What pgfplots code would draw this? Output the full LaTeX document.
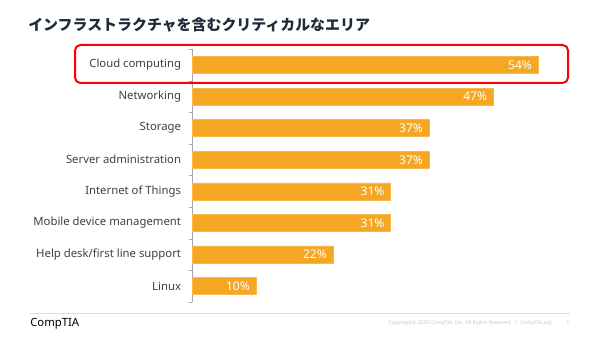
\documentclass[border=0pt]{standalone}
\usepackage{pgfplots}
\pgfplotsset{compat=1.18}
\usepackage{fontspec}
\setmainfont{Noto Sans}
\newfontfamily\cjk{Noto Sans CJK JP}
\definecolor{barc}{HTML}{F5A623}
\definecolor{lblc}{HTML}{404040}
\definecolor{titlec}{HTML}{1F2B38}
\begin{document}
\begin{tikzpicture}
\useasboundingbox (0,0) rectangle (450pt,-253.5pt);
\fill[white] (0,0) rectangle (450pt,-253.5pt);
\node[anchor=west,inner sep=0pt,text=titlec] at (21pt,-18.5pt) {\cjk\bfseries\fontsize{11.2}{13}\selectfont インフラストラクチャを含むクリティカルなエリア};
\begin{axis}[
  anchor=origin, at={(144pt,-48.75pt)},
  x=4.8075pt, y=23.68pt, y dir=reverse,
  xmin=0, xmax=60, ymin=-0.5, ymax=7.5,
  xbar, bar width=12.75pt, bar shift=0pt,
  axis x line=none, axis y line=left,
  axis line style={-, draw=gray!70},
  ytick={0,...,7},
  yticklabels={Cloud computing,Networking,Storage,Server administration,Internet of Things,Mobile device management,Help desk/first line support,Linux},
  minor ytick={-0.5,0.5,...,7.5},
  major tick length=0pt, minor tick length=2.5pt, tick align=outside,
  tick style={draw=gray!70},
  yticklabel style={font=\fontsize{8.5}{10}\selectfont, text=lblc, inner sep=0pt, xshift=-8pt},
  /pgf/number format/assume math mode=true,
  nodes near coords={\pgfmathprintnumber{\pgfplotspointmeta}\%},
  point meta=x,
  every node near coord/.append style={anchor=east, text=white, font=\fontsize{9}{10}\selectfont, inner sep=0pt, xshift=-4.5pt},
  clip=false,
]
\addplot[fill=barc, draw=barc!80!white] coordinates {(54,0) (47,1) (37,2) (37,3) (31,4) (31,5) (22,6) (10,7)};
\end{axis}
\draw[red, line width=1.5pt, rounded corners=4pt] (56.25pt,-33.75pt) rectangle (426pt,-62.25pt);
\draw[gray!25, line width=0.5pt] (22.5pt,-234.75pt) -- (427.5pt,-234.75pt);
\node[anchor=west,inner sep=0pt] at (22.5pt,-242.5pt) {\fontsize{8.5}{9}\selectfont CompTIA};
\node[anchor=east,inner sep=0pt,text=gray!45] at (414pt,-242.25pt) {\fontsize{3.8}{4}\selectfont Copyright© 2020 CompTIA, Inc. All Rights Reserved.\ \ |\ \ CompTIA.org};
\node[anchor=east,inner sep=0pt,text=gray!45] at (427pt,-242.25pt) {\fontsize{3.8}{4}\selectfont 7};
\end{tikzpicture}
\end{document}
